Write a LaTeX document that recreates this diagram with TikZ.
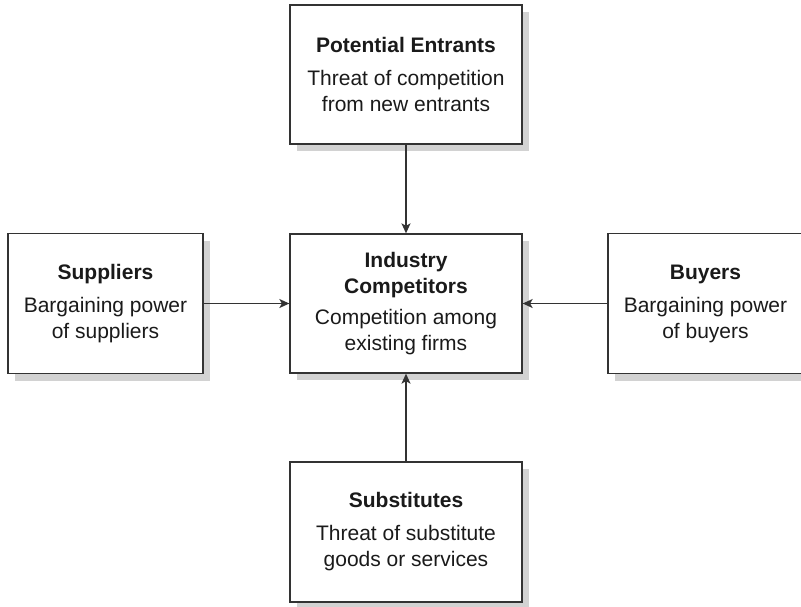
\documentclass[tikz,border=0pt]{standalone}
\usepackage{fontspec}
\setmainfont{Liberation Sans}
\usetikzlibrary{arrows.meta,shadows}
\definecolor{ln}{HTML}{333333}
\definecolor{sh}{HTML}{D2D2D2}
\definecolor{tx}{HTML}{1A1A1A}
\begin{document}
\begin{tikzpicture}[x=1pt,y=-1pt,
  box/.style={draw=ln, line width=1.3pt, fill=white, align=center,
    font=\fontsize{21}{26}\selectfont, text=tx, inner sep=0pt,
    drop shadow={shadow xshift=7pt, shadow yshift=-7pt, fill=sh, opacity=1}},
  arr/.style={draw=ln, line width=1.4pt, -{Stealth[length=10pt,width=9pt,inset=2.5pt]}}]
\useasboundingbox (0,0) rectangle (801,606);
\fill[white] (0,0) rectangle (801,606);
\clip (0,0) rectangle (801,606);

\node[box, minimum width=232pt, minimum height=139pt] (pe) at (406,74.5)
  {{\bfseries Potential Entrants}\\[7pt]Threat of competition\\from new entrants};
\node[box, minimum width=232pt, minimum height=139pt] (ic) at (406,303.5)
  {{\bfseries Industry}\\{\bfseries Competitors}\\[5pt]Competition among\\existing firms};
\node[box, minimum width=195pt, minimum height=140pt] (su) at (105.5,303.5)
  {{\bfseries Suppliers}\\[7pt]Bargaining power\\of suppliers};
\node[box, minimum width=195pt, minimum height=140pt] (bu) at (705.5,303.5)
  {{\bfseries Buyers}\\[7pt]Bargaining power\\of buyers};
\node[box, minimum width=232pt, minimum height=140pt] (sb) at (406,532)
  {{\bfseries Substitutes}\\[7pt]Threat of substitute\\goods or services};

\draw[arr] (pe.south) -- (ic.north);
\draw[arr] (su.east) -- (ic.west);
\draw[arr] (bu.west) -- (ic.east);
\draw[arr] (sb.north) -- (ic.south);
\end{tikzpicture}
\end{document}
